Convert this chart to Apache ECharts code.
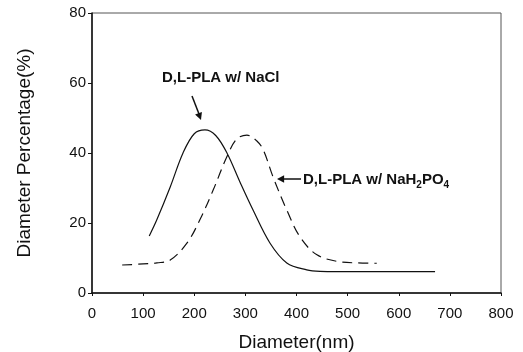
<!DOCTYPE html>
<html>
<head>
<meta charset="utf-8">
<script src="https://cdn.jsdelivr.net/npm/echarts@6/dist/echarts.min.js"></script>
<style>
  html, body { margin: 0; padding: 0; background: #fff; }
  #chart { width: 523px; height: 352px; }
</style>
</head>
<body>
<div id="chart"></div>
<script>
// diameter (nm), percentage (%)
const naclDiameter = [112, 127, 153, 178, 200, 221, 242, 264, 290, 315, 348, 381, 420, 446, 520, 600, 671];
const naclPercent = [16.3, 21, 30.3, 40, 45.5, 46.6, 45, 40, 31.5, 23.7, 14.3, 8.6, 6.6, 6.2, 6.1, 6.1, 6.1];

const phosDiameter = [59, 100, 127, 153, 186, 211, 237, 264, 283, 303, 322, 335, 354, 381, 407, 440, 485, 520, 557];
const phosPercent = [8.0, 8.3, 8.6, 9.4, 14.3, 20.9, 29.4, 39, 44, 45.1, 43.5, 40.9, 33.2, 23.7, 16, 10.9, 8.9, 8.6, 8.5];

const xTicks = [0, 800, 100];
const yTicks = [0, 80, 20];

const ink = "#111111";
const font = "'Liberation Sans', Arial, sans-serif";

const pairs = (xs, ys) => xs.map((x, i) => [x, ys[i]]);

const arrowHead = (tipX, tipY, angle, size) => {
  const a1 = angle + Math.PI * 0.85, a2 = angle - Math.PI * 0.85;
  return [
    [tipX, tipY],
    [tipX + size * Math.cos(a1), tipY + size * Math.sin(a1)],
    [tipX + size * Math.cos(a2), tipY + size * Math.sin(a2)]
  ];
};

const chart = echarts.init(document.getElementById("chart"), null, { renderer: "canvas" });

chart.setOption({
  animation: false,
  textStyle: { fontFamily: font, color: ink },
  grid: {
    left: 92, right: 22, top: 13, bottom: 59,
    containLabel: false, outerBoundsMode: "none",
    show: true, borderColor: "#555", borderWidth: 1
  },
  xAxis: {
    type: "value",
    min: xTicks[0], max: xTicks[1], interval: xTicks[2],
    name: "Diameter(nm)", nameLocation: "middle", nameGap: 40,
    nameTextStyle: { fontSize: 19, color: ink, fontFamily: font },
    axisLine: { lineStyle: { color: ink, width: 1.5 } },
    axisTick: { inside: false, length: 3, lineStyle: { color: ink } },
    axisLabel: { fontSize: 15, color: ink, margin: 13, fontFamily: font },
    splitLine: { show: false }
  },
  yAxis: {
    type: "value",
    min: yTicks[0], max: yTicks[1], interval: yTicks[2],
    name: "Diameter Percentage(%)", nameLocation: "middle", nameGap: 58,
    nameTextStyle: { fontSize: 19, color: ink, fontFamily: font },
    axisLine: { show: true, lineStyle: { color: ink, width: 1.5 } },
    axisTick: { show: true, length: 4, lineStyle: { color: ink } },
    axisLabel: { fontSize: 15, color: ink, margin: 6, fontFamily: font },
    splitLine: { show: false }
  },
  series: [
    {
      name: "D,L-PLA w/ NaCl",
      type: "line",
      data: pairs(naclDiameter, naclPercent),
      smooth: 0.35,
      showSymbol: false,
      lineStyle: { color: ink, width: 1.2 }
    },
    {
      name: "D,L-PLA w/ NaH2PO4",
      type: "line",
      data: pairs(phosDiameter, phosPercent),
      smooth: 0.35,
      showSymbol: false,
      lineStyle: { color: ink, width: 1.2, type: [10, 6] }
    }
  ],
  graphic: [
    {
      type: "text", left: 162, top: 70,
      style: { text: "D,L-PLA w/ NaCl", font: "bold 15px " + font, fill: ink }
    },
    { type: "line", shape: { x1: 192, y1: 96, x2: 199, y2: 114 }, style: { stroke: ink, lineWidth: 1.5 } },
    { type: "polygon", shape: { points: arrowHead(201, 120, Math.atan2(24, 9), 8) }, style: { fill: ink } },
    {
      type: "text", left: 303, top: 171,
      style: {
        text: "{t|D,L-PLA w/ NaH}{s|2}{t|PO}{s|4}",
        rich: {
          t: { font: "bold 15px " + font, fill: ink, verticalAlign: "top", lineHeight: 18 },
          s: { font: "bold 10px " + font, fill: ink, verticalAlign: "bottom", padding: [9, 0, 0, 0], lineHeight: 18 }
        }
      }
    },
    { type: "line", shape: { x1: 301, y1: 179, x2: 283, y2: 179 }, style: { stroke: ink, lineWidth: 1.5 } },
    { type: "polygon", shape: { points: arrowHead(277, 179, Math.PI, 8) }, style: { fill: ink } }
  ]
});
</script>
</body>
</html>
